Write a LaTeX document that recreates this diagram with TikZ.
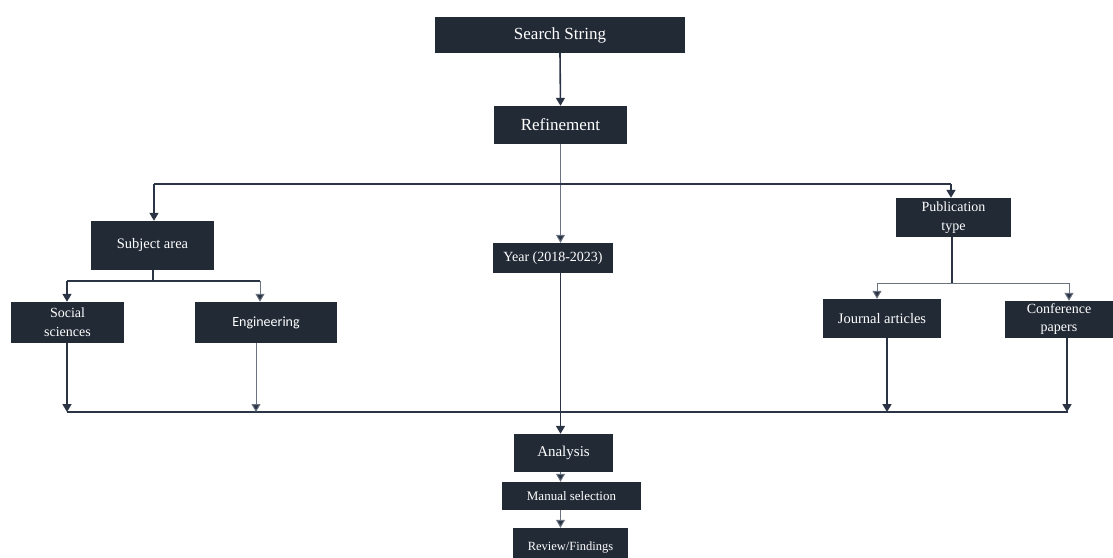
\documentclass[tikz,border=0pt]{standalone}
\usepackage{fontspec}
\setmainfont{Liberation Serif}
\newfontfamily\cfont{Carlito}
\usetikzlibrary{arrows.meta}
\definecolor{boxc}{HTML}{222A36}
\definecolor{linec}{HTML}{2B3445}
\definecolor{thinc}{HTML}{6B7380}
\begin{document}
\begin{tikzpicture}[x=1pt,y=-1pt,
  box/.style={fill=boxc, text=white, inner sep=0pt, align=center},
  ln/.style={draw=linec, line width=1.6pt},
  thin/.style={draw=thinc, line width=1pt},
  tip/.style={-{Triangle[width=9pt,length=8pt,fill=linec]}},
  arr/.style={ln, tip},
  tarr/.style={thin, tip}
]
\useasboundingbox (0,0) rectangle (1113,557);
% nodes
\node[box, minimum width=250pt, minimum height=36pt, font=\fontsize{17}{19}\selectfont] (ss) at (560,35) {Search String};
\node[box, minimum width=133pt, minimum height=38pt, font=\fontsize{17}{19}\selectfont] (ref) at (560.5,125) {Refinement};
\node[box, minimum width=120pt, minimum height=30pt, font=\fontsize{14}{16}\selectfont] (year) at (553,258) {Year (2018-2023)};
\node[box, minimum width=123pt, minimum height=49pt, font=\fontsize{14.5}{17}\selectfont] (sub) at (152.5,245.5) {Subject area};
\node[box, minimum width=113pt, minimum height=41pt, font=\fontsize{14}{19}\selectfont] (soc) at (67.5,322.5) {Social\\sciences};
\node[box, minimum width=142pt, minimum height=41pt, font=\cfont\fontsize{14}{17}\selectfont] (eng) at (266,322.5) {Engineering};
\node[box, minimum width=115pt, minimum height=39pt, font=\fontsize{14}{19}\selectfont] (pub) at (953.5,217.5) {Publication\\type};
\node[box, minimum width=118pt, minimum height=39pt, font=\fontsize{14.5}{17}\selectfont] (jour) at (882,318.5) {Journal articles};
\node[box, minimum width=108pt, minimum height=37pt, font=\fontsize{14}{18}\selectfont] (conf) at (1059,319.5) {Conference\\papers};
\node[box, minimum width=99pt, minimum height=38pt, font=\fontsize{15}{17}\selectfont] (ana) at (563.5,453) {Analysis};
\node[box, minimum width=139pt, minimum height=28pt, font=\fontsize{13}{15}\selectfont] (man) at (571.5,496) {Manual selection};
\node[box, minimum width=115pt, minimum height=40pt, font=\fontsize{12.5}{15}\selectfont] (rev) at (570.5,548) {Review/Findings};
% coordinates
\coordinate (t1) at (154,184);
\coordinate (t2) at (951,184);
\coordinate (s0) at (153,281);
\coordinate (s1) at (67,281);
\coordinate (s2) at (260,281);
\coordinate (p0) at (952,283);
\coordinate (p1) at (877,283);
\coordinate (p2) at (1069,283);
\coordinate (bl) at (67,412);
\coordinate (br) at (1068,412);
\coordinate (e1) at (256,412);
\coordinate (j1) at (887,412);
\coordinate (c1) at (1067,412);
% connectors
\draw[arr] (ss.south) -- (ref.north);
\draw[tarr] (ref.south) -- (ref.south |- year.north);
\draw[ln] (t1) -- (t2);
\draw[arr] (t1) -- (sub.north -| t1);
\draw[arr] (t2) -- (pub.north -| t2);
\draw[ln] (sub.south -| s0) -- (s0);
\draw[ln] (s1) -- (s2);
\draw[arr] (s1) -- (soc.north -| s1);
\draw[tarr] (s2) -- (eng.north -| s2);
\draw[ln] (pub.south -| p0) -- (p0);
\draw[thin] (p1) -- (p2);
\draw[tarr] (p1) -- (jour.north -| p1);
\draw[tarr] (p2) -- (conf.north -| p2);
\draw[ln] (bl) -- (br);
\draw[arr] (soc.south -| bl) -- (bl);
\draw[tarr] (eng.south -| e1) -- (e1);
\draw[arr] (jour.south -| j1) -- (j1);
\draw[arr] (conf.south -| c1) -- (c1);
\draw[arr] (ref.south |- year.south) -- (ref.south |- ana.north);
\draw[tarr] (ref.south |- ana.south) -- (ref.south |- man.north);
\draw[tarr] (ref.south |- man.south) -- (ref.south |- rev.north);
\end{tikzpicture}
\end{document}
